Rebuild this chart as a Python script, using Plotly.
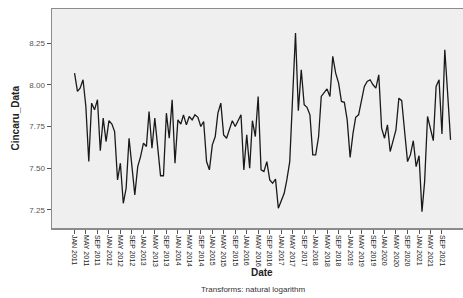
import pandas as pd
import plotly.graph_objects as go

start_month = "2011-01-01"
values = [
    8.07, 7.96, 7.98, 8.03, 7.87, 7.54, 7.89, 7.85, 7.91, 7.605, 7.80, 7.66,
    7.785, 7.765, 7.72, 7.43, 7.53, 7.29, 7.38, 7.68, 7.51, 7.34, 7.51, 7.57,
    7.65, 7.63, 7.84, 7.62, 7.80, 7.63, 7.455, 7.455, 7.83, 7.68, 7.91, 7.53,
    7.79, 7.765, 7.82, 7.76, 7.81, 7.79, 7.82, 7.805, 7.75, 7.78, 7.54, 7.49,
    7.64, 7.69, 7.83, 7.89, 7.70, 7.68, 7.73, 7.785, 7.75, 7.79, 7.82, 7.49,
    7.70, 7.50, 7.785, 7.69, 7.93, 7.49, 7.48, 7.54, 7.43, 7.41, 7.435, 7.26,
    7.31, 7.35, 7.43, 7.54, 7.92, 8.31, 7.845, 8.09, 7.88, 7.865, 7.82, 7.58,
    7.58, 7.69, 7.93, 7.95, 7.975, 7.93, 8.17, 8.07, 8.01, 7.90, 7.895, 7.79,
    7.565, 7.71, 7.805, 7.82, 7.91, 7.99, 8.02, 8.03, 8.00, 7.98, 8.06, 7.74,
    7.68, 7.76, 7.60, 7.665, 7.73, 7.92, 7.905, 7.72, 7.54, 7.58, 7.665, 7.51,
    7.575, 7.24, 7.42, 7.81, 7.74, 7.665, 7.99, 8.03, 7.705, 8.21, 7.94, 7.67,
]
dates = pd.date_range(start_month, periods=len(values), freq="MS")

tick_dates = pd.date_range("2011-01-01", "2021-09-01", freq="4MS")
tick_labels = [
    "JAN 2011", "MAY 2011", "SEP 2011", "JAN 2012", "MAY 2012", "SEP 2012",
    "JAN 2013", "MAY 2013", "SEP 2013", "JAN 2014", "MAY 2014", "SEP 2014",
    "JAN 2015", "MAY 2015", "SEP 2015", "JAN 2016", "MAY 2016", "SEP 2016",
    "JAN 2017", "MAY 2017", "SEP 2017", "JAN 2018", "MAY 2018", "SEP 2018",
    "JAN 2019", "MAY 2019", "SEP 2019", "JAN 2020", "MAY 2020", "SEP 2020",
    "JAN 2021", "MAY 2021", "SEP 2021",
]
y_ticks = [7.25, 7.50, 7.75, 8.00, 8.25]
y_tick_labels = ["7.25", "7.50", "7.75", "8.00", "8.25"]

fig = go.Figure()
fig.add_trace(go.Scatter(
    x=dates, y=values, mode="lines",
    line=dict(color="#1a1a1a", width=1.3),
    hoverinfo="skip",
))

font = "Liberation Sans, Arial, sans-serif"
fig.update_layout(
    width=463, height=298,
    margin=dict(l=52, r=0, t=9, b=70, autoexpand=False),
    paper_bgcolor="white",
    plot_bgcolor="#efefef",
    showlegend=False,
    hovermode=False,
    font=dict(family=font, color="#444"),
    xaxis=dict(
        type="date", automargin=False,
        range=["2010-05-07", "2022-04-12"],
        tickmode="array", tickvals=tick_dates, ticktext=tick_labels,
        tickangle=90, tickfont=dict(size=7, color="#222"),
        ticks="outside", ticklen=4, tickcolor="#555", tickwidth=1,
        showgrid=False, zeroline=False,
        showline=True, linecolor="#8c8c8c", linewidth=1.5, mirror=True,
    ),
    yaxis=dict(
        automargin=False,
        range=[7.142, 8.454],
        tickmode="array", tickvals=y_ticks, ticktext=y_tick_labels,
        tickfont=dict(size=8, color="#555"),
        ticks="outside", ticklen=4, tickcolor="#555", tickwidth=1,
        showgrid=False, zeroline=False,
        showline=True, linecolor="#8c8c8c", linewidth=1.5, mirror=True,
    ),
    annotations=[
        dict(text="<b>Cincaru_Data</b>", xref="paper", yref="paper",
             x=-0.09, y=0.5, xanchor="center", yanchor="middle",
             textangle=-90, showarrow=False,
             font=dict(size=10, color="#222", family=font)),
        dict(text="<b>Date</b>", xref="paper", yref="paper",
             x=0.51, y=-0.204, xanchor="center", yanchor="middle",
             showarrow=False, font=dict(size=10, color="#222", family=font)),
        dict(text="Transforms: natural logarithm", xref="paper", yref="paper",
             x=0.49, y=-0.283, xanchor="center", yanchor="middle",
             showarrow=False, font=dict(size=8, color="#333", family=font)),
    ],
)
fig.write_html("out.html", config={"displayModeBar": False, "staticPlot": True},
               post_script="document.body.style.margin='0';")
